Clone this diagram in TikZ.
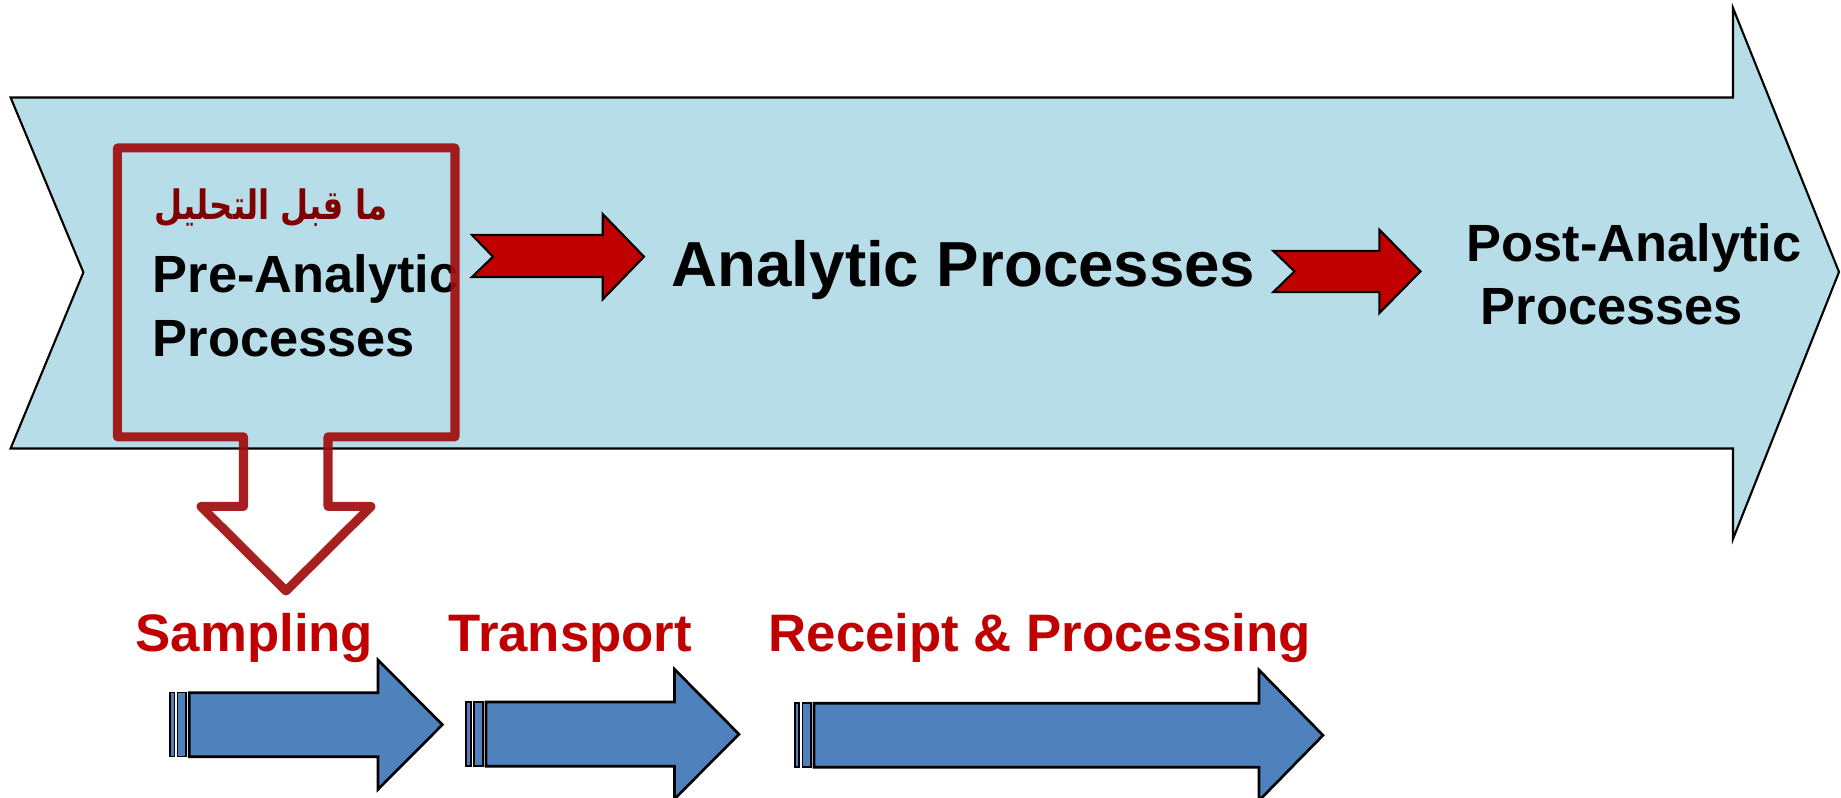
\documentclass[tikz,border=0pt]{standalone}
\usepackage{graphicx}
\usepackage{fontspec}
\setmainfont{Liberation Sans}
\newfontfamily\arabicfont[Script=Arabic]{DejaVu Sans}
\TeXXeTstate=1
\definecolor{flowblue}{RGB}{183,221,232}
\definecolor{stepblue}{RGB}{79,129,189}
\definecolor{notchred}{RGB}{192,0,0}
\definecolor{calloutred}{RGB}{160,12,12}
\definecolor{arabicred}{RGB}{128,0,0}
\definecolor{labelred}{RGB}{192,0,0}
\tikzset{
  bigflow/.style={fill=flowblue,draw=black,line width=0.6pt,line join=miter},
  notcharrow/.style={fill=notchred,draw=black,line width=0.6pt},
  stepbody/.style={fill=stepblue,draw=black,line width=0.75pt},
  stepstripe/.style={fill=stepblue,draw=black,line width=0.45pt},
  callout/.style={draw=calloutred,draw opacity=0.92,line width=0.09cm,line join=round},
  maintext/.style={inner sep=0pt,anchor=base west,font=\fontsize{14.9pt}{18.07pt}\selectfont\bfseries,text=black},
  bigtext/.style={inner sep=0pt,anchor=base west,font=\fontsize{18.1pt}{21pt}\selectfont\bfseries,text=black},
  steplabel/.style={inner sep=0pt,anchor=base west,font=\fontsize{15pt}{18pt}\selectfont\bfseries,text=labelred},
}
\begin{document}
\begin{tikzpicture}[x=0.01cm,y=-0.01cm]
\useasboundingbox (0,0) rectangle (1841,798);

% main process band
\draw[bigflow] (10.6,97.5) -- (1733,97.5) -- (1733,8) -- (1839,272) -- (1733,539)
  -- (1733,448.5) -- (10.6,448.5) -- (83.4,272.4) -- cycle;

% stage texts (a multi-line node sits on the baseline of its last line)
\node[maintext,align=left] (pre) at (152,356.5) {Pre-Analytic\\Processes};
\node[inner sep=0pt,anchor=base,text=arabicred] (prear) at (271,220)
  {\scalebox{0.8}[1]{\fontsize{11.5pt}{14pt}\arabicfont\bfseries\beginR ما قبل التحليل\endR}};
\node[bigtext] (ana) at (671,286.7) {Analytic Processes};
\node[maintext] (post1) at (1466,261.8) {Post-Analytic};
\node[maintext] (post2) at (1480,324.3) {Processes};

% notched arrows between stages
\draw[notcharrow] (472,235) -- (602.7,235) -- (602.7,214) -- (644,256.7) -- (602.7,299.4)
  -- (602.7,277) -- (472,277) -- (493,256.7) -- cycle;
\draw[notcharrow] (1273.4,251) -- (1379.3,251) -- (1379.3,229.6) -- (1420.4,271.4)
  -- (1379.3,313.2) -- (1379.3,292) -- (1273.4,292) -- (1294.5,271.4) -- cycle;

% expanding callout of the first stage
\draw[callout] (117.4,148) -- (455,148) -- (455,436.8) -- (328,436.8) -- (328,506.5)
  -- (371,506.5) -- (286,591) -- (201,506.5) -- (243.5,506.5) -- (243.5,436.8)
  -- (117.4,436.8) -- cycle;

% sub-step labels
\node[steplabel] (samp) at (135,651.7) {Sampling};
\node[steplabel] (trans) at (448,651.7) {Transport};
\node[steplabel] (recv) at (768,651.7) {Receipt \& Processing};

% striped step arrows
\draw[stepstripe] (170,692.7) rectangle (174.6,756.7);
\draw[stepstripe] (177.7,692.7) rectangle (186.2,756.7);
\draw[stepbody] (189.3,692.7) -- (378,692.7) -- (378,660) -- (442.4,724.7) -- (378,789.4)
  -- (378,756.7) -- (189.3,756.7) -- cycle;

\draw[stepstripe] (466,702) rectangle (471,766.3);
\draw[stepstripe] (474,702) rectangle (483,766.3);
\draw[stepbody] (486,702) -- (674.5,702) -- (674.5,669.3) -- (739,734.2) -- (674.5,799)
  -- (674.5,766.3) -- (486,766.3) -- cycle;

\draw[stepstripe] (795,703.3) rectangle (799,767.3);
\draw[stepstripe] (802.4,703.3) rectangle (811.2,767.3);
\draw[stepbody] (814,703.3) -- (1259,703.3) -- (1259,670) -- (1323,735.3) -- (1259,800.6)
  -- (1259,767.3) -- (814,767.3) -- cycle;
\end{tikzpicture}
\end{document}
